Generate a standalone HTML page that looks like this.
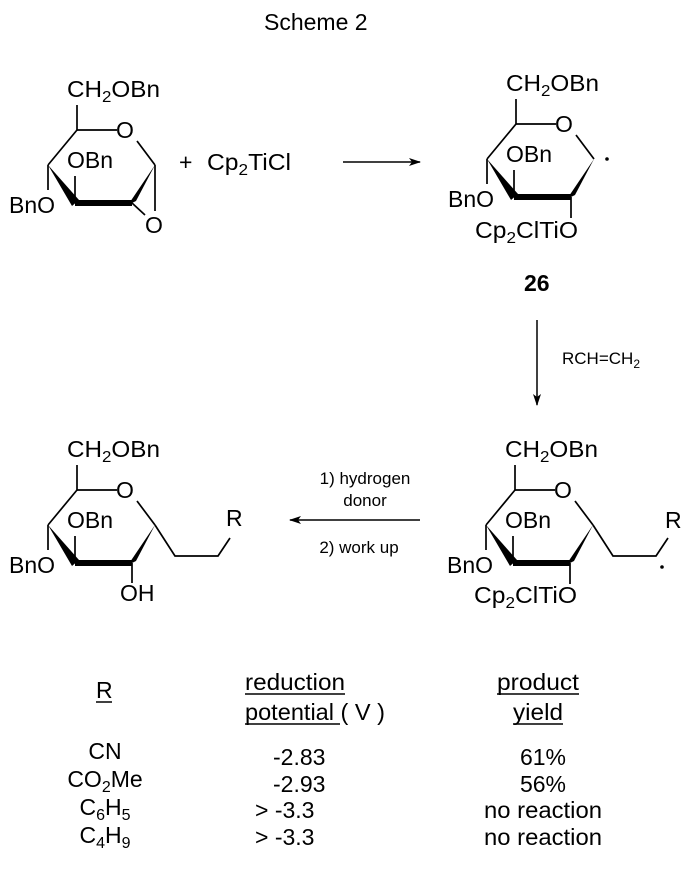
<!DOCTYPE html>
<html><head><meta charset="utf-8"><style>
html,body{margin:0;padding:0;background:#fff}
svg{display:block}
text{font-family:"Liberation Sans",Arial,sans-serif;font-size:23px;fill:#000}
.s{font-size:16px}
</style></head><body>
<svg width="695" height="876" viewBox="0 0 695 876" xmlns="http://www.w3.org/2000/svg">
<defs>
<marker id="ah" markerWidth="12" markerHeight="8" refX="11" refY="4" orient="auto" markerUnits="userSpaceOnUse">
<path d="M0,0 L12,4 L0,8 L3,4 Z" fill="#000"/></marker>
<g id="ring">
<line x1="77" y1="105" x2="77" y2="130" stroke="#000" stroke-width="1.7"/>
<line x1="77" y1="130" x2="117" y2="130" stroke="#000" stroke-width="1.7"/>
<line x1="137" y1="141" x2="155" y2="165" stroke="#000" stroke-width="1.7"/>
<polygon points="155,165 128,205 136,201" fill="#000"/>
<line x1="75" y1="203" x2="132" y2="203" stroke="#000" stroke-width="6"/>
<polygon points="48,165 72,206 79,200" fill="#000"/>
<line x1="48" y1="165" x2="77" y2="130" stroke="#000" stroke-width="1.7"/>
<line x1="75" y1="203" x2="75" y2="176" stroke="#000" stroke-width="1.7"/>
<line x1="48" y1="165" x2="48" y2="190" stroke="#000" stroke-width="1.7"/>
<text x="67" y="97" textLength="93" lengthAdjust="spacingAndGlyphs">CH<tspan class="s" dy="5">2</tspan><tspan dy="-5">OBn</tspan></text>
<text x="116" y="138">O</text>
<text x="67" y="168">OBn</text>
<text x="9" y="213">BnO</text>
</g>
</defs>
<text x="264" y="30" style="font-size:23px">Scheme 2</text>

<!-- structure 1 -->
<use href="#ring"/>
<line x1="155" y1="165" x2="155" y2="211" stroke="#000" stroke-width="1.7"/>
<line x1="132" y1="203" x2="145" y2="215" stroke="#000" stroke-width="1.7"/>
<text x="145" y="233">O</text>
<text x="179" y="170">+</text>
<text x="207" y="170" textLength="84" lengthAdjust="spacingAndGlyphs">Cp<tspan class="s" dy="5">2</tspan><tspan dy="-5">TiCl</tspan></text>
<line x1="343" y1="162" x2="420" y2="162" stroke="#000" stroke-width="1.5" marker-end="url(#ah)"/>

<!-- structure 26 -->
<g transform="translate(439,-6)"><use href="#ring"/>
<line x1="132" y1="203" x2="132" y2="224" stroke="#000" stroke-width="1.7"/>
<circle cx="168" cy="165" r="1.8" fill="#000"/>
<text x="36" y="244" textLength="103" lengthAdjust="spacingAndGlyphs">Cp<tspan class="s" dy="5">2</tspan><tspan dy="-5">ClTiO</tspan></text>
</g>
<text x="524" y="291" style="font-weight:bold">26</text>
<line x1="537" y1="320" x2="537" y2="405" stroke="#000" stroke-width="1.5" marker-end="url(#ah)"/>
<text x="562" y="364" style="font-size:17px">RCH=CH<tspan style="font-size:12px" dy="4">2</tspan></text>

<!-- structure bottom right -->
<g transform="translate(438,360)"><use href="#ring"/>
<line x1="132" y1="203" x2="132" y2="224" stroke="#000" stroke-width="1.7"/>
<text x="36" y="243" textLength="103" lengthAdjust="spacingAndGlyphs">Cp<tspan class="s" dy="5">2</tspan><tspan dy="-5">ClTiO</tspan></text>
<polyline points="155,165 175,196 218,196 230,178" fill="none" stroke="#000" stroke-width="1.7"/>
<text x="227" y="168">R</text>
<circle cx="224" cy="207" r="1.8" fill="#000"/>
</g>

<line x1="420" y1="520" x2="290" y2="520" stroke="#000" stroke-width="1.5" marker-end="url(#ah)"/>
<text x="365" y="484" text-anchor="middle" style="font-size:17px">1) hydrogen</text>
<text x="365" y="506" text-anchor="middle" style="font-size:17px">donor</text>
<text x="359" y="553" text-anchor="middle" style="font-size:17px">2) work up</text>

<!-- product left -->
<g transform="translate(0,360)"><use href="#ring"/>
<line x1="132" y1="203" x2="132" y2="223" stroke="#000" stroke-width="1.7"/>
<text x="120" y="241">OH</text>
<polyline points="155,165 175,196 218,196 230,178" fill="none" stroke="#000" stroke-width="1.7"/>
<text x="226" y="166">R</text>
</g>

<!-- table -->
<text x="96" y="698">R</text>
<line x1="96" y1="702" x2="112" y2="702" stroke="#000" stroke-width="1.5"/>
<text x="245" y="690" textLength="100" lengthAdjust="spacingAndGlyphs">reduction</text>
<line x1="245" y1="694" x2="345" y2="694" stroke="#000" stroke-width="1.5"/>
<text x="245" y="720" textLength="140" lengthAdjust="spacingAndGlyphs">potential ( V )</text>
<line x1="245" y1="724" x2="340" y2="724" stroke="#000" stroke-width="1.5"/>
<text x="497" y="690" textLength="82" lengthAdjust="spacingAndGlyphs">product</text>
<line x1="497" y1="694" x2="579" y2="694" stroke="#000" stroke-width="1.5"/>
<text x="513" y="720" textLength="50" lengthAdjust="spacingAndGlyphs">yield</text>
<line x1="513" y1="724" x2="563" y2="724" stroke="#000" stroke-width="1.5"/>

<text x="105" y="759" text-anchor="middle">CN</text>
<text x="105" y="787" text-anchor="middle">CO<tspan class="s" dy="5">2</tspan><tspan dy="-5">Me</tspan></text>
<text x="105" y="815" text-anchor="middle">C<tspan class="s" dy="5">6</tspan><tspan dy="-5">H</tspan><tspan class="s" dy="5">5</tspan></text>
<text x="105" y="843" text-anchor="middle">C<tspan class="s" dy="5">4</tspan><tspan dy="-5">H</tspan><tspan class="s" dy="5">9</tspan></text>

<text x="273" y="765">-2.83</text>
<text x="273" y="792">-2.93</text>
<text x="255" y="818">&gt; -3.3</text>
<text x="255" y="845">&gt; -3.3</text>

<text x="543" y="765" text-anchor="middle">61%</text>
<text x="543" y="792" text-anchor="middle">56%</text>
<text x="543" y="818" text-anchor="middle" textLength="118" lengthAdjust="spacingAndGlyphs">no reaction</text>
<text x="543" y="845" text-anchor="middle" textLength="118" lengthAdjust="spacingAndGlyphs">no reaction</text>
</svg>
</body></html>
